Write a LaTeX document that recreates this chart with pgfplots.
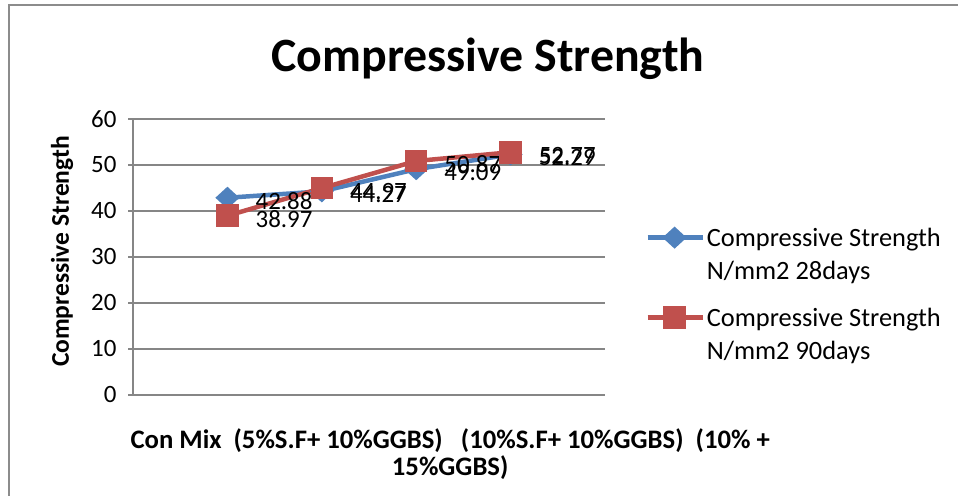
\documentclass[border=0pt]{standalone}
\usepackage{pgfplots}
\pgfplotsset{compat=1.18}
\usepackage{fontspec}
\setmainfont{Carlito}
\definecolor{exblue}{HTML}{4F81BD}
\definecolor{exred}{HTML}{C0504D}
\definecolor{gridc}{HTML}{868686}
\definecolor{framec}{HTML}{8C8C8C}

\begin{document}
\begin{tikzpicture}
\useasboundingbox (0bp,0bp) rectangle (958bp,496bp);
\draw[framec, line width=1.6bp] (9bp,-10bp) rectangle (975bp,491bp);
\node[font=\fontsize{48}{54}\selectfont\bfseries, anchor=base, inner sep=0pt] at (488bp,424bp) {Compressive Strength};
\begin{axis}[
  at={(133bp,101bp)}, anchor=south west,
  scale only axis, width=472bp, height=276bp,
  xmin=-1, xmax=4, ymin=0, ymax=60,
  ytick={0,10,...,60}, xtick=\empty,
  axis x line*=bottom, axis y line*=left,
  axis line style={gridc, line width=1.2bp},
  ymajorgrids, grid style={gridc, line width=1.2bp},
  tick style={gridc, line width=1.2bp}, major tick length=5bp,
  ytick pos=left, tick align=outside,
  /pgf/number format/assume math mode=true,
  yticklabel style={font=\fontsize{25}{30}\selectfont, xshift=-8bp},
  ylabel={Compressive Strength},
  ylabel style={font=\fontsize{25.6}{30}\selectfont\bfseries, at={(axis description cs:-0.15,0.52)}, anchor=center},
  xlabel={Con Mix\ \ (5\%S.F+ 10\%GGBS)\ \ \ (10\%S.F+ 10\%GGBS)\ \ (10\% +\\15\%GGBS)},
  xlabel style={font=\fontsize{26.8}{28}\selectfont\bfseries, align=center, at={(axis description cs:0.672,0)}, anchor=north, yshift=-33bp, inner sep=0pt},
  nodes near coords,
  every node near coord/.append style={anchor=west, xshift=26bp, yshift=-3bp, font=\fontsize{25}{30}\selectfont, text=black, inner sep=0pt},
  legend style={at={(1.085,0.612)}, anchor=north west, draw=none, fill=none, font=\fontsize{26.5}{33}\selectfont, cells={align=left}, row sep=23bp, inner sep=0pt},
  legend cell align=left,
  legend image code/.code={\draw[mark repeat=2,mark phase=2,yshift=17bp,#1] plot coordinates {(0bp,0bp) (27bp,0bp) (55bp,0bp)};},
]
\addplot[exblue, line width=4.5bp, mark=diamond*, mark size=8bp, mark options={xscale=1.45, solid}] coordinates {(0,42.88) (1,44.27) (2,49.09) (3,52.29)};
\addlegendentry{Compressive Strength\\N/mm2 28days}
\addplot[exred, line width=4.5bp, mark=square*, mark size=9bp, mark options={solid}] coordinates {(0,38.97) (1,44.97) (2,50.87) (3,52.77)};
\addlegendentry{Compressive Strength\\N/mm2 90days}
\end{axis}
\end{tikzpicture}
\end{document}
